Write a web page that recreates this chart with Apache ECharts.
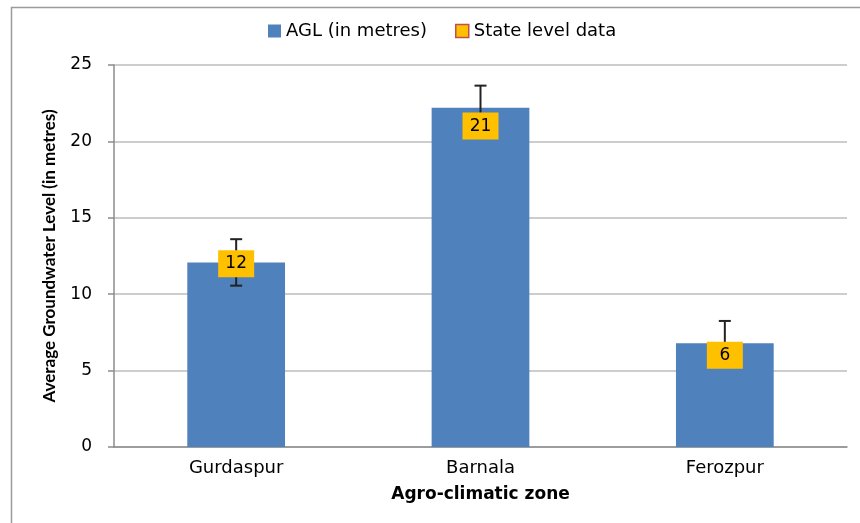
<!DOCTYPE html>
<html>
<head>
<meta charset="utf-8">
<script src="https://cdn.jsdelivr.net/npm/echarts@6/dist/echarts.min.js"></script>
<style>html,body{margin:0;padding:0;background:#fff;}#chart{width:860px;height:523px;}</style>
</head>
<body>
<div id="chart"></div>
<script>
const categories = ['Gurdaspur', 'Barnala', 'Ferozpur'];
const aglValues = [12.08, 22.2, 6.79];
const aglErrors = [1.52, 1.45, 1.46];
const stateValues = [12, 21, 6];
const yTicks = { min: 0, max: 25, interval: 5 };

const chart = echarts.init(document.getElementById('chart'));
const FONT = 'DejaVu Sans';
const errData = categories.map((c, i) => [i, aglValues[i] - aglErrors[i], aglValues[i] + aglErrors[i]]);

chart.setOption({
  animation: false,
  backgroundColor: '#fff',
  graphic: [{
    type: 'rect', left: 9, top: 5, z: -10,
    shape: { width: 900, height: 600 },
    style: { fill: 'none', stroke: '#9a9a9a', lineWidth: 1.5 }
  }],
  grid: { left: 114, right: 13, top: 65, bottom: 76 },
  legend: {
    left: 263, top: 17, itemWidth: 13, itemHeight: 13, itemGap: 28,
    textStyle: { fontFamily: FONT, fontSize: 18, color: '#000' },
    data: [
      { name: 'AGL (in metres)', icon: 'rect', itemStyle: { color: '#4F81BD' } },
      { name: 'State level data', icon: 'rect', itemStyle: { color: '#FFC000', borderColor: '#C0504D', borderWidth: 1.5 } }
    ]
  },
  xAxis: {
    type: 'category', data: categories,
    name: 'Agro-climatic zone', nameLocation: 'middle', nameGap: 39,
    nameTextStyle: { fontFamily: FONT, fontWeight: 'bold', fontSize: 17, color: '#000' },
    axisLine: { lineStyle: { color: '#8c8c8c', width: 1.5 } },
    axisTick: { show: false },
    axisLabel: { fontFamily: FONT, fontSize: 18, color: '#000', margin: 12 }
  },
  yAxis: {
    type: 'value', min: yTicks.min, max: yTicks.max, interval: yTicks.interval,
    name: 'Average Groundwater Level (in metres)', nameLocation: 'middle', nameGap: 56,
    nameTextStyle: { fontFamily: 'Lato', fontWeight: 'bold', fontSize: 17, color: '#000' },
    axisLine: { show: true, lineStyle: { color: '#8c8c8c', width: 1.5 } },
    axisTick: { show: true, length: 6, lineStyle: { color: '#8c8c8c', width: 1.5 } },
    axisLabel: { fontFamily: FONT, fontSize: 17, color: '#000', margin: 22 },
    splitLine: { lineStyle: { color: '#bdbdbd', width: 1.5 } }
  },
  series: [
    {
      name: 'AGL (in metres)', type: 'bar', data: aglValues, barWidth: '40%',
      itemStyle: { color: '#4F81BD' }, z: 2
    },
    {
      name: 'errors', type: 'custom', data: errData, z: 3,
      renderItem: function (params, api) {
        const x = api.value(0);
        const lo = api.coord([x, api.value(1)]);
        const hi = api.coord([x, api.value(2)]);
        const cap = 6;
        const st = { stroke: '#222', lineWidth: 2 };
        return {
          type: 'group',
          children: [
            { type: 'line', shape: { x1: lo[0], y1: lo[1], x2: hi[0], y2: hi[1] }, style: st },
            { type: 'line', shape: { x1: hi[0] - cap, y1: hi[1], x2: hi[0] + cap, y2: hi[1] }, style: st },
            { type: 'line', shape: { x1: lo[0] - cap, y1: lo[1], x2: lo[0] + cap, y2: lo[1] }, style: st }
          ]
        };
      }
    },
    {
      name: 'State level data', type: 'scatter', data: stateValues, z: 5,
      symbol: 'rect', symbolSize: [36, 27],
      itemStyle: { color: '#FFC000', opacity: 1 },
      label: { show: true, position: 'inside', fontFamily: FONT, fontSize: 17, color: '#000' }
    }
  ]
});
</script>
</body>
</html>
